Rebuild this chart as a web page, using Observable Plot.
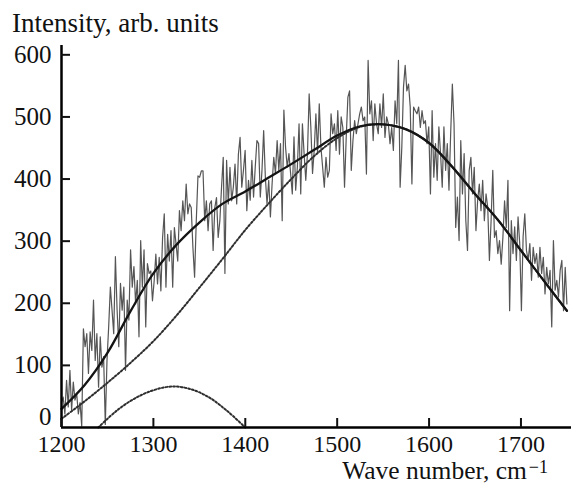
<!DOCTYPE html>
<html>
<head>
<meta charset="utf-8">
<script src="https://cdn.jsdelivr.net/npm/d3@7"></script>
<script src="https://cdn.jsdelivr.net/npm/@observablehq/plot@0.6"></script>
<style>
  html, body { margin: 0; padding: 0; background: #fff; }
  #wrap { position: relative; width: 573px; height: 485px; overflow: hidden; font-family: 'Liberation Serif', 'Times New Roman', serif; color: #111; }
  #wrap svg { position: absolute; left: 0; top: 0; }
  .ttl { position: absolute; white-space: nowrap; }
  #ytitle { font-size: 27px; line-height: 26px; }
  #xtitle { font-size: 25.5px; line-height: 22px; }
  .ttl sup { font-size: 18px; line-height: 0; vertical-align: 0.33em; margin-left: 2px; }
</style>
</head>
<body>
<div id="wrap">
  <div id="plot"></div>
  <div class="ttl" id="ytitle" style="left:12px; top:10px;"></div>
  <div class="ttl" id="xtitle" style="right:25px; top:459.7px;"></div>
</div>
<script>
// Axis titles and ticks
const yTitle = "Intensity, arb. units";
const xTitleMain = "Wave number, cm";
const xTitleSup = "−1";
const xTicks = [1200, 1300, 1400, 1500, 1600, 1700];
const yTicks = [100, 200, 300, 400, 500, 600];
const yZeroTick = [0];

// Measured (noisy) spectrum, evenly sampled from 1200 to 1750 cm-1
const waveStart = 1200;
const waveEnd = 1750;
const measured = [
  40, 49, 22, 76, 33, 92, 28, 73, 44, 55, 22, 40, 2, 159, 130, 151, 87, 154, 124, 205,
  108, 151, 65, 146, 97, 114, 5, 108, 162, 226, 189, 151, 275, 189, 130, 232, 189, 226, 92, 205,
  173, 286, 226, 259, 199, 237, 146, 301, 226, 286, 162, 264, 248,
  252, 204, 236, 279, 231, 274, 220, 306, 344, 226, 311, 268, 317, 226, 322, 295, 268, 349, 317, 365,
  333, 392, 344, 360, 354, 290, 242, 333, 405, 403, 413, 413, 333, 365, 317, 360, 365, 285, 354, 370,
  306, 333, 387, 435, 248, 430, 360, 419, 365, 387, 424, 360, 440, 467, 387,
  414, 446, 349, 398, 366, 430, 371, 419, 462, 457, 371, 414, 478, 403, 360, 398, 339, 392, 435, 409,
  462, 414, 457, 333, 511, 451, 419, 441, 409, 376, 468, 382, 419, 489, 376, 489, 441, 398, 441, 537,
  484, 409, 446, 505, 441, 521, 451, 419, 387, 435, 403, 414, 505, 473,
  489, 446, 510, 440, 500, 483, 387, 467, 532, 542, 414, 462, 494, 473, 489, 505, 516, 494, 500, 408,
  591, 505, 526, 462, 521, 489, 473, 521, 483, 537, 467, 500, 489, 457, 483, 446, 526, 489, 591, 387,
  451, 548, 583, 542, 553, 516, 392, 516, 510, 505, 516, 483, 510, 489,
  494, 457, 484, 376, 510, 403, 457, 398, 484, 441, 387, 484, 414, 457, 382, 473, 553, 489, 322, 371,
  301, 462, 376, 441, 333, 285, 414, 435, 376, 419, 317, 365, 392, 349, 398, 333, 376, 355, 269, 333,
  414, 306, 317, 280, 301, 263, 306, 365, 322,
  398, 188, 333, 280, 323, 269, 339, 296, 188, 307, 344, 285, 269, 296, 237, 290, 264, 280, 242, 290,
  248, 274, 215, 258, 231, 253, 162, 301, 221, 237, 210, 253, 269, 188, 258, 199
];

// Fitted envelope (solid line)
const fitWave  = [1200, 1225, 1250, 1275, 1300, 1325, 1350, 1375, 1400, 1425, 1450, 1475, 1500, 1525, 1550, 1575, 1600, 1625, 1650, 1675, 1700, 1725, 1750];
const fitValue = [  30,   68,  120,  187,  248,  294,  330,  360,  380,  402,  424,  447,  470,  485,  488,  480,  458,  420,  376,  334,  285,  236,  188];

// Broad component (dotted)
const bandWave  = [1200, 1225, 1250, 1275, 1300, 1325, 1350, 1375, 1400, 1425, 1450, 1475, 1500, 1525, 1550, 1575, 1600, 1625, 1650, 1675, 1700, 1725, 1750];
const bandValue = [  14,   42,   72,  104,  139,  180,  225,  271,  318,  360,  400,  437,  466,  484,  488,  480,  458,  420,  376,  334,  285,  236,  188];

// Narrow component (dotted)
const peakWave  = [1240, 1260, 1280, 1300, 1320, 1340, 1360, 1380, 1400];
const peakValue = [   0,   27,   47,   60,   66,   62,   49,   27,    0];

const step = (waveEnd - waveStart) / (measured.length - 1);
const measuredData = measured.map((v, i) => ({x: waveStart + i * step, y: v}));
const fitData = fitWave.map((x, i) => ({x, y: fitValue[i]}));
const bandData = bandWave.map((x, i) => ({x, y: bandValue[i]}));
const peakData = peakWave.map((x, i) => ({x, y: peakValue[i]}));

const fontFam = "'Liberation Serif', 'Times New Roman', serif";
const chart = Plot.plot({
  width: 573,
  height: 485,
  marginLeft: 61,
  marginRight: 2,
  marginTop: 45,
  marginBottom: 58,
  style: {fontFamily: fontFam, fontSize: "25px", background: "transparent", color: "#111"},
  x: {domain: [1200, 1755], axis: null},
  y: {domain: [0, 615], axis: null},
  marks: [
    Plot.line(measuredData, {x: "x", y: "y", stroke: "#555", strokeWidth: 1.2}),
    Plot.line(bandData, {x: "x", y: "y", curve: "catmull-rom", stroke: "#2e2e2e", strokeWidth: 2, strokeDasharray: "1.8 2"}),
    Plot.line(peakData, {x: "x", y: "y", curve: "catmull-rom", stroke: "#2e2e2e", strokeWidth: 2, strokeDasharray: "1.8 2"}),
    Plot.line(fitData, {x: "x", y: "y", curve: "catmull-rom", stroke: "#141414", strokeWidth: 2.3}),
    Plot.ruleX([1200], {stroke: "#000", strokeWidth: 2.5}),
    Plot.ruleY([0], {stroke: "#000", strokeWidth: 2.5}),
    Plot.axisY({ticks: yTicks, tickSize: -9, tickPadding: 19, fontSize: 25, strokeWidth: 2, tickFormat: d => String(d), label: null}),
    Plot.axisY({ticks: yZeroTick, tickSize: 0, tickPadding: 10, fontSize: 25, dy: -11, tickFormat: d => String(d), label: null}),
    Plot.axisX({ticks: xTicks, tickSize: -9, tickPadding: 16, fontSize: 24, strokeWidth: 2, tickFormat: d => String(d), label: null})
  ]
});
document.getElementById("plot").appendChild(chart);
document.getElementById("ytitle").textContent = yTitle;
const xt = document.getElementById("xtitle");
xt.appendChild(document.createTextNode(xTitleMain));
const sup = document.createElement("sup");
sup.textContent = xTitleSup;
xt.appendChild(sup);
</script>
</body>
</html>
